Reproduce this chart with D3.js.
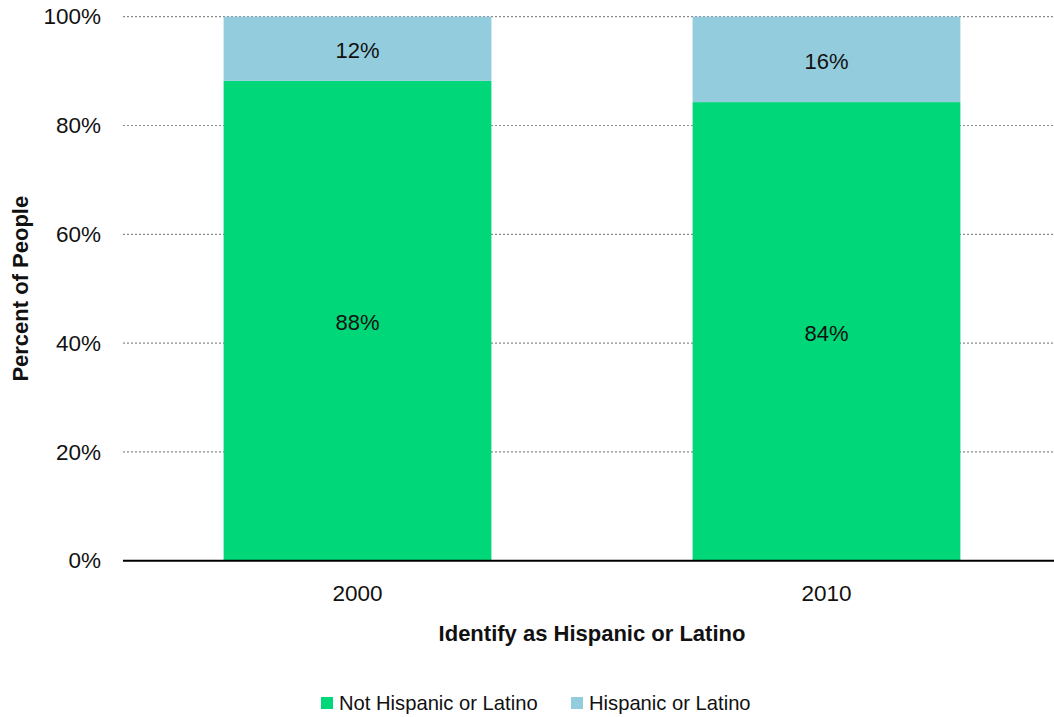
<!DOCTYPE html>
<html>
<head>
<meta charset="utf-8">
<script src="https://cdn.jsdelivr.net/npm/d3@7"></script>
<style>
  html, body { margin: 0; padding: 0; background: #fff; }
  svg { display: block; font-family: "Liberation Sans Narrow", "Arial Narrow", "Liberation Sans", sans-serif; }
</style>
</head>
<body>
<svg id="chart" width="1054" height="717"></svg>
<script>
// Share of people by Hispanic or Latino identification, per census year
const years = ["2000", "2010"];
const notHispanic = [0.882, 0.843];
const hispanic = [0.118, 0.157];
const seriesNames = ["Not Hispanic or Latino", "Hispanic or Latino"];
const seriesColors = ["#00d778", "#93cddd"];
const yTicks = [0, 0.2, 0.4, 0.6, 0.8, 1.0];

const rows = years.map((y, i) => ({ year: y, notHispanic: notHispanic[i], hispanic: hispanic[i] }));
const stack = d3.stack().keys(["notHispanic", "hispanic"])(rows);

const svg = d3.select("#chart");
const margin = { left: 123, right: -7, top: 16.7, bottom: 156.3 };
const W = 1054, H = 717;

const x = d3.scaleBand()
  .domain(years)
  .range([margin.left, W - margin.right])
  .paddingInner(0.429)
  .paddingOuter(0.2145);

const y = d3.scaleLinear()
  .domain([0, 1])
  .range([H - margin.bottom, margin.top]);

const pct = d3.format(".0%");

// dotted gridlines
svg.append("g")
  .selectAll("line")
  .data(yTicks.filter(t => t > 0))
  .join("line")
  .attr("x1", margin.left)
  .attr("x2", W)
  .attr("y1", d => y(d))
  .attr("y2", d => y(d))
  .attr("stroke", "#8a8a8a")
  .attr("stroke-width", 1.2)
  .attr("stroke-dasharray", "2,2");

// stacked bars
const layers = svg.append("g")
  .selectAll("g")
  .data(stack)
  .join("g")
  .attr("fill", (d, i) => seriesColors[i]);

layers.selectAll("rect")
  .data(d => d)
  .join("rect")
  .attr("x", d => x(d.data.year))
  .attr("width", x.bandwidth())
  .attr("y", d => y(d[1]))
  .attr("height", d => y(d[0]) - y(d[1]));

// segment value labels
layers.selectAll("text")
  .data(d => d)
  .join("text")
  .attr("x", d => x(d.data.year) + x.bandwidth() / 2)
  .attr("y", d => (y(d[0]) + y(d[1])) / 2 + 2)
  .attr("dy", "0.35em")
  .attr("text-anchor", "middle")
  .attr("fill", "#111")
  .attr("font-size", 22)
  .text(d => pct(d[1] - d[0]));

// y axis tick labels
const yAxis = d3.axisLeft(y).tickValues(yTicks).tickFormat(pct).tickSize(0).tickPadding(22);
const gy = svg.append("g").attr("transform", `translate(${margin.left},0)`).call(yAxis);
gy.select(".domain").remove();
gy.selectAll("text").attr("font-size", 22.5).attr("fill", "#111").attr("font-family", null);

// x axis baseline and labels
const xAxis = d3.axisBottom(x).tickSize(0).tickPadding(24);
const gx = svg.append("g").attr("transform", `translate(0,${y(0)})`).call(xAxis);
gx.select(".domain").remove();
gx.selectAll("text").attr("font-size", 22.5).attr("fill", "#111").attr("font-family", null);
svg.append("line")
  .attr("x1", margin.left).attr("x2", W)
  .attr("y1", y(0)).attr("y2", y(0))
  .attr("stroke", "#000").attr("stroke-width", 2);

// axis titles
svg.append("text")
  .attr("x", (margin.left + W - margin.right) / 2)
  .attr("y", 641)
  .attr("text-anchor", "middle")
  .attr("font-size", 22)
  .attr("font-weight", "bold")
  .attr("fill", "#111")
  .text("Identify as Hispanic or Latino");

svg.append("text")
  .attr("transform", `translate(28,${(y(0) + y(1)) / 2}) rotate(-90)`)
  .attr("text-anchor", "middle")
  .attr("font-size", 22)
  .attr("font-weight", "bold")
  .attr("fill", "#111")
  .text("Percent of People");

// legend
const legendX = [321, 571];
const legend = svg.append("g")
  .selectAll("g")
  .data(seriesNames)
  .join("g")
  .attr("transform", (d, i) => `translate(${legendX[i]},703)`);
legend.append("rect")
  .attr("x", 0).attr("y", -6)
  .attr("width", 12).attr("height", 12)
  .attr("fill", (d, i) => seriesColors[i]);
legend.append("text")
  .attr("x", 18)
  .attr("dy", "0.35em")
  .attr("font-size", 20.2)
  .attr("fill", "#111")
  .text(d => d);
</script>
</body>
</html>
